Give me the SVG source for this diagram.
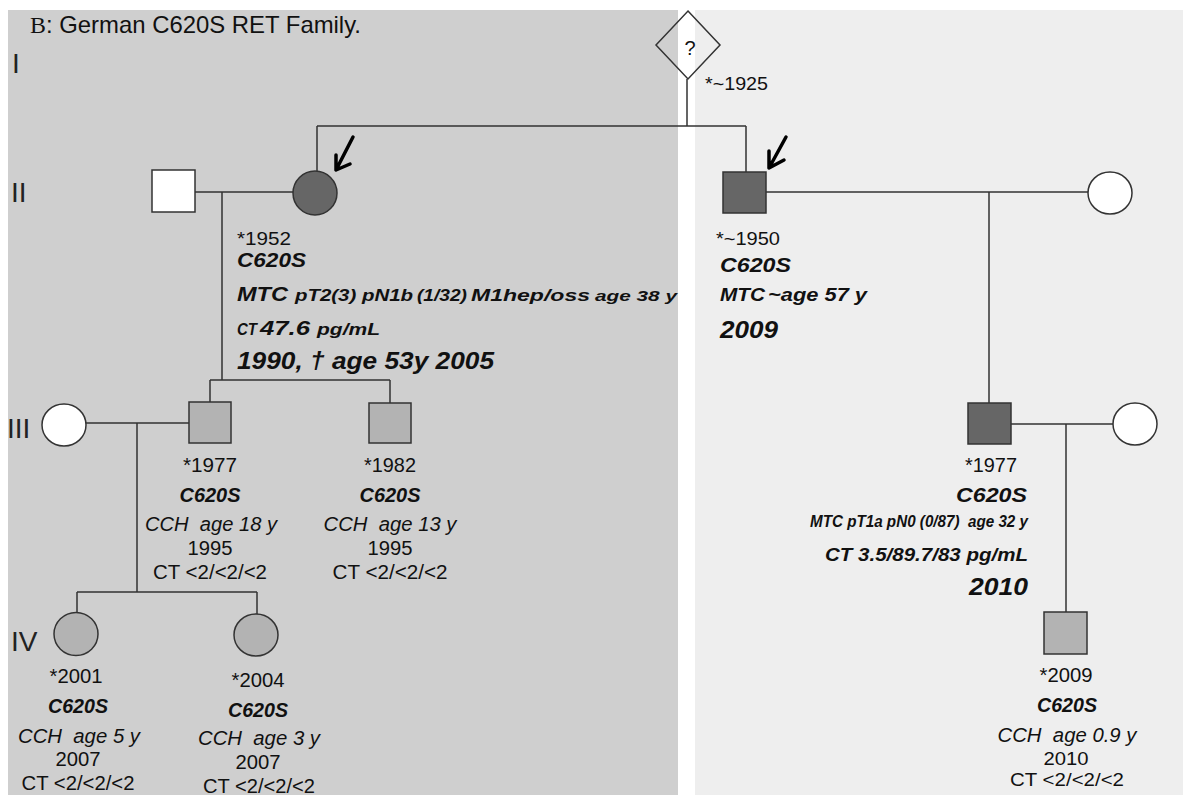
<svg xmlns="http://www.w3.org/2000/svg" width="1183" height="795" viewBox="0 0 1183 795">
<style>
.t{font-family:"Liberation Sans",Arial,sans-serif;fill:#111;white-space:pre}
.bi{font-weight:bold;font-style:italic}
.it{font-style:italic}
.ln{stroke:#333;stroke-width:1.5;fill:none}
.nd{stroke:#333;stroke-width:1.5}
.dark{fill:#666}
.light{fill:#b3b3b3}
.white{fill:#fff}
.arr{stroke:#000;stroke-width:3.5;fill:none;stroke-linecap:round;stroke-linejoin:round}
.num{font-family:"Liberation Sans",Arial,sans-serif;fill:#222;font-size:28px}
</style>
<rect x="0" y="0" width="1183" height="795" fill="#fff"/>
<rect x="8" y="10" width="670" height="785" fill="#cfcfcf"/>
<rect x="695" y="10" width="488" height="785" fill="#eeeeee"/>

<text class="t" x="30" y="33" font-size="24" textLength="331" lengthAdjust="spacingAndGlyphs"><tspan font-family="Liberation Serif">B</tspan>: German C620S RET Family.</text>
<text class="num" x="12" y="73">I</text>
<text class="num" x="11" y="202">II</text>
<text class="num" x="7" y="438">III</text>
<text class="num" x="11" y="651">IV</text>

<g id="connectors">
<path class="ln" d="M687 79V126M317 126H746M317 126V171M746 126V172"/>
<path class="ln" d="M195 192H293M222 192V380M210 380H390M210 380V402M390 380V403"/>
<path class="ln" d="M86 423H189M137 423V592M77 592H257M77 592V613M257 592V614"/>
<path class="ln" d="M766 192H1088M989 192V403"/>
<path class="ln" d="M1011 424H1113M1066 424V612"/>
</g>

<g id="arrows">
<path class="arr" d="M353 137L336 170M336 170L336 155M336 170L350 164"/>
<path class="arr" d="M786 137L769 168M769 168L769 151M769 168L784 160"/>
</g>

<g id="n_I">
<path class="nd" fill="none" d="M688 11L720 45L688 79L656 45Z"/>
<text class="t" x="690" y="55" font-size="20" text-anchor="middle">?</text>
<text class="t" x="705" y="90" font-size="19" textLength="63" lengthAdjust="spacingAndGlyphs">*~1925</text>
</g>

<g id="n_II_1">
<rect class="nd white" x="152" y="170" width="43" height="42"/>
</g>

<g id="n_II_2">
<circle class="nd dark" cx="315" cy="193" r="22"/>
<text class="t" x="237" y="245" font-size="19" textLength="54" lengthAdjust="spacingAndGlyphs">*1952</text>
<text class="t bi" x="237" y="267" font-size="21" textLength="69" lengthAdjust="spacingAndGlyphs">C620S</text>
<text class="t bi" y="301"><tspan x="237" font-size="21" textLength="51" lengthAdjust="spacingAndGlyphs">MTC</tspan><tspan x="295" font-size="16" textLength="118" lengthAdjust="spacingAndGlyphs">pT2(3) pN1b</tspan><tspan x="417" font-size="17" textLength="50" lengthAdjust="spacingAndGlyphs">(1/32)</tspan><tspan x="471" font-size="17" textLength="119" lengthAdjust="spacingAndGlyphs">M1hep/oss</tspan><tspan x="595" font-size="15" textLength="82" lengthAdjust="spacingAndGlyphs">age 38 y</tspan></text>
<text class="t bi" y="335"><tspan x="237" font-size="16" textLength="20" lengthAdjust="spacingAndGlyphs">CT</tspan><tspan x="260" font-size="20" textLength="50" lengthAdjust="spacingAndGlyphs">47.6</tspan><tspan x="317" font-size="17" textLength="63" lengthAdjust="spacingAndGlyphs">pg/mL</tspan></text>
<text class="t bi" x="237" y="369" font-size="23" textLength="257" lengthAdjust="spacingAndGlyphs">1990, † age 53y 2005</text>
</g>

<g id="n_II_3">
<rect class="nd dark" x="723" y="172" width="43" height="41"/>
<text class="t" x="716" y="245" font-size="19" textLength="64" lengthAdjust="spacingAndGlyphs">*~1950</text>
<text class="t bi" x="720" y="272" font-size="21" textLength="71" lengthAdjust="spacingAndGlyphs">C620S</text>
<text class="t bi" y="301"><tspan x="720" font-size="19" textLength="45" lengthAdjust="spacingAndGlyphs">MTC</tspan><tspan x="768" font-size="18" textLength="99" lengthAdjust="spacingAndGlyphs">~age 57 y</tspan></text>
<text class="t bi" x="720" y="338" font-size="23" textLength="58" lengthAdjust="spacingAndGlyphs">2009</text>
</g>

<g id="n_II_4">
<ellipse class="nd white" cx="1110" cy="193" rx="22" ry="21"/>
</g>

<g id="n_III_1">
<ellipse class="nd white" cx="64" cy="425" rx="22" ry="21"/>
</g>

<g id="n_III_2">
<rect class="nd light" x="189" y="402" width="42" height="41"/>
<text class="t" x="210" y="472" font-size="20" text-anchor="middle" textLength="54" lengthAdjust="spacingAndGlyphs">*1977</text>
<text class="t bi" x="210" y="502" font-size="20" text-anchor="middle" textLength="61" lengthAdjust="spacingAndGlyphs">C620S</text>
<text class="t it" x="211" y="531" font-size="20" text-anchor="middle" textLength="132" lengthAdjust="spacingAndGlyphs">CCH  age 18 y</text>
<text class="t" x="210" y="555" font-size="20" text-anchor="middle" textLength="45" lengthAdjust="spacingAndGlyphs">1995</text>
<text class="t" x="210" y="579" font-size="20" text-anchor="middle" textLength="114" lengthAdjust="spacingAndGlyphs">CT &lt;2/&lt;2/&lt;2</text>
</g>

<g id="n_III_3">
<rect class="nd light" x="369" y="403" width="42" height="40"/>
<text class="t" x="390" y="472" font-size="20" text-anchor="middle" textLength="52" lengthAdjust="spacingAndGlyphs">*1982</text>
<text class="t bi" x="390" y="502" font-size="20" text-anchor="middle" textLength="61" lengthAdjust="spacingAndGlyphs">C620S</text>
<text class="t it" x="390" y="531" font-size="20" text-anchor="middle" textLength="133" lengthAdjust="spacingAndGlyphs">CCH  age 13 y</text>
<text class="t" x="390" y="555" font-size="20" text-anchor="middle" textLength="45" lengthAdjust="spacingAndGlyphs">1995</text>
<text class="t" x="390" y="579" font-size="20" text-anchor="middle" textLength="115" lengthAdjust="spacingAndGlyphs">CT &lt;2/&lt;2/&lt;2</text>
</g>

<g id="n_III_4">
<rect class="nd dark" x="968" y="403" width="43" height="41"/>
<text class="t" x="991" y="472" font-size="20" text-anchor="middle" textLength="52" lengthAdjust="spacingAndGlyphs">*1977</text>
<text class="t bi" x="991.5" y="502" font-size="21" text-anchor="middle" textLength="71" lengthAdjust="spacingAndGlyphs">C620S</text>
<text class="t bi" x="1028" y="527" font-size="17" text-anchor="end" textLength="218" lengthAdjust="spacingAndGlyphs">MTC pT1a pN0 (0/87)  age 32 y</text>
<text class="t bi" x="1028" y="561" font-size="18" text-anchor="end" textLength="203" lengthAdjust="spacingAndGlyphs">CT 3.5/89.7/83 pg/mL</text>
<text class="t bi" x="1028" y="595" font-size="23" text-anchor="end" textLength="59" lengthAdjust="spacingAndGlyphs">2010</text>
</g>

<g id="n_III_5">
<ellipse class="nd white" cx="1135" cy="424" rx="22" ry="21"/>
</g>

<g id="n_IV_1">
<ellipse class="nd light" cx="76" cy="634" rx="22" ry="21.5"/>
<text class="t" x="76" y="683" font-size="20" text-anchor="middle" textLength="53" lengthAdjust="spacingAndGlyphs">*2001</text>
<text class="t bi" x="78" y="713" font-size="20" text-anchor="middle" textLength="60" lengthAdjust="spacingAndGlyphs">C620S</text>
<text class="t it" x="79" y="743" font-size="20" text-anchor="middle" textLength="122" lengthAdjust="spacingAndGlyphs">CCH  age 5 y</text>
<text class="t" x="78" y="766" font-size="20" text-anchor="middle" textLength="45" lengthAdjust="spacingAndGlyphs">2007</text>
<text class="t" x="78" y="790" font-size="20" text-anchor="middle" textLength="113" lengthAdjust="spacingAndGlyphs">CT &lt;2/&lt;2/&lt;2</text>
</g>

<g id="n_IV_2">
<ellipse class="nd light" cx="256" cy="635" rx="22" ry="21"/>
<text class="t" x="258" y="687" font-size="20" text-anchor="middle" textLength="53" lengthAdjust="spacingAndGlyphs">*2004</text>
<text class="t bi" x="258" y="717" font-size="20" text-anchor="middle" textLength="60" lengthAdjust="spacingAndGlyphs">C620S</text>
<text class="t it" x="259" y="745" font-size="20" text-anchor="middle" textLength="122" lengthAdjust="spacingAndGlyphs">CCH  age 3 y</text>
<text class="t" x="258" y="769" font-size="20" text-anchor="middle" textLength="45" lengthAdjust="spacingAndGlyphs">2007</text>
<text class="t" x="259" y="793" font-size="20" text-anchor="middle" textLength="112" lengthAdjust="spacingAndGlyphs">CT &lt;2/&lt;2/&lt;2</text>
</g>

<g id="n_IV_3">
<rect class="nd light" x="1044" y="612" width="43" height="42"/>
<text class="t" x="1066" y="682" font-size="20" text-anchor="middle" textLength="53" lengthAdjust="spacingAndGlyphs">*2009</text>
<text class="t bi" x="1067" y="712" font-size="20" text-anchor="middle" textLength="60" lengthAdjust="spacingAndGlyphs">C620S</text>
<text class="t it" x="1067" y="742" font-size="20" text-anchor="middle" textLength="139" lengthAdjust="spacingAndGlyphs">CCH  age 0.9 y</text>
<text class="t" x="1066" y="765" font-size="18" text-anchor="middle" textLength="45" lengthAdjust="spacingAndGlyphs">2010</text>
<text class="t" x="1067" y="786" font-size="18" text-anchor="middle" textLength="114" lengthAdjust="spacingAndGlyphs">CT &lt;2/&lt;2/&lt;2</text>
</g>
</svg>
